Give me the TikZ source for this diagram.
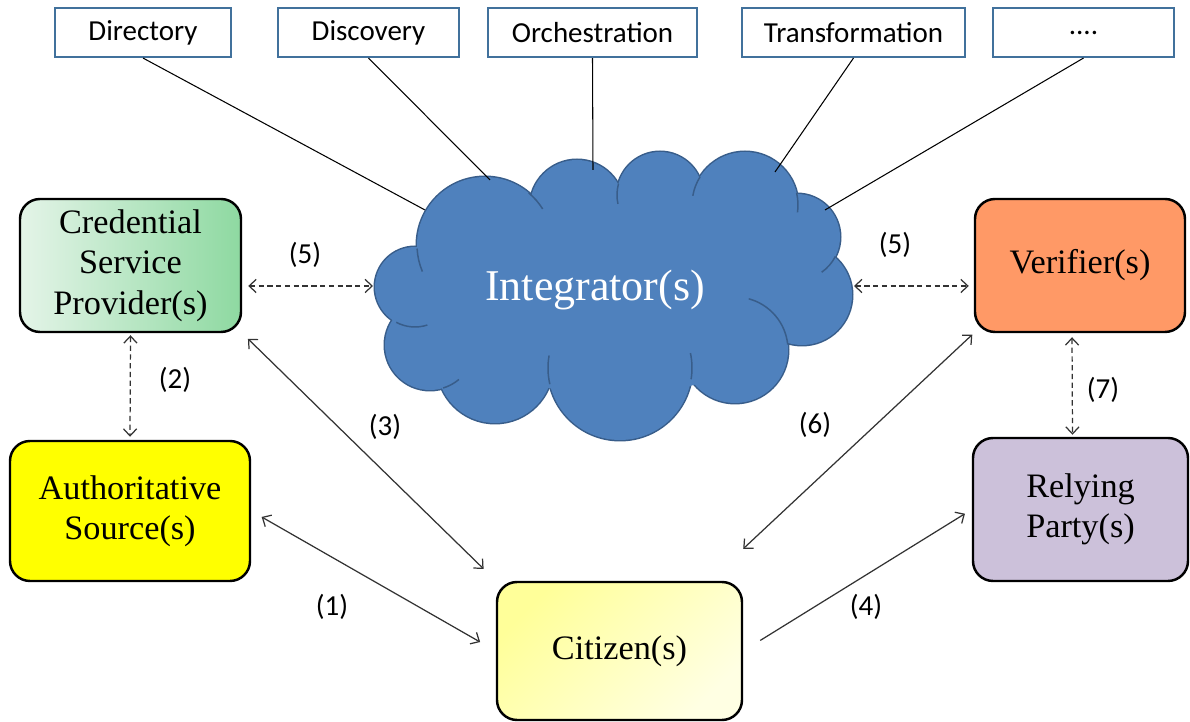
\documentclass[tikz,border=0pt]{standalone}
\usepackage{fontspec}
\setmainfont{Liberation Serif}
\newfontfamily\calfont{Carlito}
\usetikzlibrary{positioning}
\usetikzlibrary{arrows.meta}

\definecolor{cloudfill}{HTML}{4F81BD}
\definecolor{cloudedge}{HTML}{385D8A}
\definecolor{topedge}{HTML}{41719C}
\definecolor{cspleft}{HTML}{E4F4E8}
\definecolor{cspright}{HTML}{8ED9A1}
\definecolor{authfill}{HTML}{FFFF00}
\definecolor{verfill}{HTML}{FF9966}
\definecolor{rpfill}{HTML}{CCC1DA}
\definecolor{citA}{HTML}{FFFF99}
\definecolor{citB}{HTML}{FFFFE3}

\tikzset{
  topbox/.style={draw=topedge,line width=1.2pt,fill=white,minimum height=0.98cm,inner sep=0pt,font=\calfont\fontsize{16.5}{19}\selectfont},
  actor/.style={draw=black,line width=1.4pt,rounded corners=0.4cm,align=center,inner sep=0pt,font=\fontsize{19.5}{23}\selectfont},
  numlbl/.style={font=\calfont\fontsize{16.5}{19}\selectfont},
  link/.style={draw=black!80,line width=0.7pt,>={Straight Barb[length=4pt,width=7.5pt]}},
  dlink/.style={link,dash pattern=on 3pt off 2pt},
  cloudarc/.style={draw=cloudedge,line width=0.85pt}
}

\begin{document}
\begin{tikzpicture}
\useasboundingbox[fill=white] (0,0) rectangle (23.8,14.44);

\foreach \cx/\cy/\r in {8.30/8.70/0.80, 8.60/7.54/0.90, 9.90/7.14/1.16, 12.40/7.08/1.44, 14.70/7.44/1.06, 16.04/8.54/1.00, 15.94/9.70/0.86, 14.90/10.34/1.06, 13.20/10.54/0.86, 11.54/10.30/0.94, 9.70/9.54/1.36}
  \draw[cloudedge,line width=1.7pt] (\cx,\cy) circle (\r);
\foreach \cx/\cy/\r in {8.30/8.70/0.80, 8.60/7.54/0.90, 9.90/7.14/1.16, 12.40/7.08/1.44, 14.70/7.44/1.06, 16.04/8.54/1.00, 15.94/9.70/0.86, 14.90/10.34/1.06, 13.20/10.54/0.86, 11.54/10.30/0.94, 9.70/9.54/1.36}
  \fill[cloudfill] (\cx,\cy) circle (\r);
\fill[cloudfill] (12.30,8.54) ellipse (3.6 and 2.0);
\foreach \cx/\cy/\r/\a/\b in {9.70/9.54/1.36/183/203, 9.70/9.54/1.36/50/32, 13.20/10.54/0.86/165/192, 14.90/10.34/1.06/148/170, 14.90/10.34/1.06/13/-8, 15.94/9.70/0.86/-27/-55, 14.70/7.44/1.06/6/75, 12.40/7.08/1.44/-9/12, 12.40/7.08/1.44/193/170, 8.60/7.54/0.90/-73/-50, 8.30/8.70/0.80/-118/-72}
  \draw[cloudarc] ([shift={(\a:\r)}]\cx,\cy) arc[start angle=\a,end angle=\b,radius=\r];

\node[font=\fontsize{25}{30}\selectfont,text=white] (integ) at (11.90,8.64) {Integrator(s)};
\coordinate (cw) at (7.50,8.72);
\coordinate (ce) at (17.04,8.72);
\coordinate (tdir) at (8.50,10.24);
\coordinate (tdisc) at (9.80,10.84);
\coordinate (torch) at (11.86,11.04);
\coordinate (ttrans) at (15.50,11.00);
\coordinate (tmore) at (16.50,10.24);

\node[topbox,minimum width=3.52cm] (dir) at (2.86,13.79) {Directory};
\node[topbox,minimum width=3.62cm] (disc) at (7.37,13.79) {Discovery};
\node[topbox,minimum width=4.18cm] (orch) at (11.85,13.79) {Orchestration};
\node[topbox,minimum width=4.46cm] (trans) at (17.07,13.79) {Transformation};
\node[topbox,minimum width=3.62cm] (more) at (21.67,13.79) {....};

\draw[black,line width=0.6pt] (dir.south) -- (tdir);
\draw[black,line width=0.6pt] (disc.south) -- (tdisc);
\draw[black,line width=0.6pt] (orch.south) -- (torch);
\draw[black,line width=0.6pt] (trans.south) -- (ttrans);
\draw[black,line width=0.6pt] (more.south) -- (tmore);

\node[actor,left color=cspleft,right color=cspright,minimum width=4.42cm,minimum height=2.66cm] (csp) at (2.61,9.13) {Credential\\Service\\Provider(s)};
\node[actor,fill=authfill,minimum width=4.8cm,minimum height=2.8cm] (auth) at (2.60,4.22) {Authoritative\\Source(s)};
\node[actor,fill=verfill,minimum width=4.2cm,minimum height=2.66cm] (ver) at (21.60,9.13) {Verifier(s)};
\node[actor,fill=rpfill,minimum width=4.3cm,minimum height=2.86cm] (rp) at (21.61,4.25) {Relying\\Party(s)};
\node[actor,top color=citA,bottom color=citB,shading angle=45,minimum width=4.9cm,minimum height=2.76cm] (cit) at (12.39,1.42) {Citizen(s)};

\draw[dlink,<->,shorten <=0.12cm,shorten >=0.04cm] (csp.east |- cw) -- (cw);
\draw[dlink,<->,shorten <=0.04cm,shorten >=0.1cm] (ce) -- (ver.west |- ce);
\draw[dlink,<->,shorten <=0.04cm,shorten >=0.06cm] (csp.south) -- (auth.north);
\draw[dlink,<->,shorten <=0.08cm,shorten >=0.04cm] ([xshift=-0.16cm]ver.south) -- ([xshift=-0.16cm]rp.north);
\draw[link,<->,shorten <=0.16cm,shorten >=0.34cm] (csp.south east) -- (cit.north west);
\draw[link,<->,shorten <=0.24cm,shorten >=0.36cm] (auth.east) -- (cit.west);
\draw[link,<->,shorten <=0.04cm] (ver.south west) -- ([yshift=0.64cm]cit.north east);
\draw[link,->,shorten <=0.40cm,shorten >=0.16cm] (cit.east) -- (rp.west);

\node[numlbl] (n5a) at (6.10,9.34) {(5)};
\node[numlbl] (n5b) at (17.90,9.54) {(5)};
\node[numlbl] (n2) at (3.50,6.84) {(2)};
\node[numlbl] (n7) at (22.06,6.64) {(7)};
\node[numlbl] (n3) at (7.70,5.90) {(3)};
\node[numlbl] (n6) at (16.30,5.94) {(6)};
\node[numlbl] (n1) at (6.64,2.30) {(1)};
\node[numlbl] (n4) at (17.32,2.30) {(4)};
\end{tikzpicture}
\end{document}
